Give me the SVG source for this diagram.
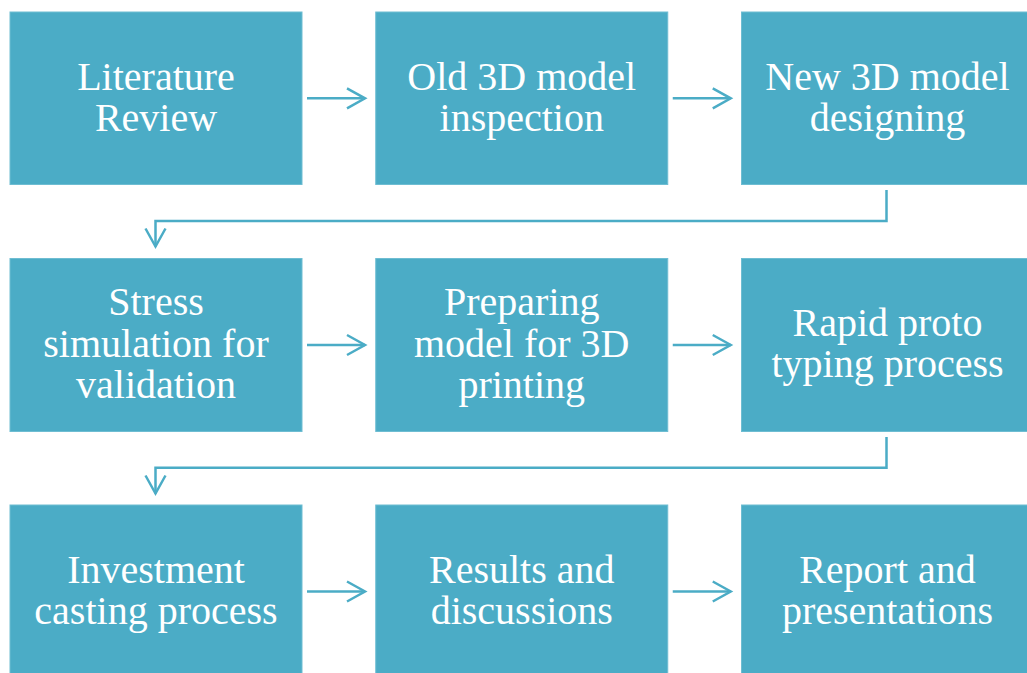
<svg xmlns="http://www.w3.org/2000/svg" width="1027" height="673" viewBox="0 0 1027 673">
  <defs>
    <style>
      .box { fill: #4BACC6; stroke: #6EBDD2; stroke-width: 1; }
      .label { font-family: "Liberation Serif", "Times New Roman", serif; font-size: 40px; fill: #FFFFFF; text-anchor: middle; }
      .conn { fill: none; stroke: #4BACC6; stroke-width: 2.5; stroke-linejoin: miter; }
    </style>
    <marker id="chevron" markerUnits="userSpaceOnUse" markerWidth="24" markerHeight="26" viewBox="-20 -12 24 24" refX="0" refY="0" orient="auto">
      <polyline points="-18,-10 0,0 -18,10" fill="none" stroke="#4BACC6" stroke-width="2.5"/>
    </marker>
  </defs>
  <rect width="1027" height="673" fill="#FFFFFF"/>

  <!-- Row 1 -->
  <g id="literature-review">
    <rect class="box" x="10" y="12" width="292" height="172.5"/>
    <text class="label" x="156" y="90">Literature</text>
    <text class="label" x="156" y="131">Review</text>
  </g>
  <g id="old-model-inspection">
    <rect class="box" x="375.75" y="12" width="292" height="172.5"/>
    <text class="label" x="521.75" y="90">Old 3D model</text>
    <text class="label" x="521.75" y="131">inspection</text>
  </g>
  <g id="new-model-designing">
    <rect class="box" x="741.5" y="12" width="292" height="172.5"/>
    <text class="label" x="887.5" y="90">New 3D model</text>
    <text class="label" x="887.5" y="131">designing</text>
  </g>

  <!-- Row 2 -->
  <g id="stress-simulation">
    <rect class="box" x="10" y="258.5" width="292" height="173"/>
    <text class="label" x="156" y="315">Stress</text>
    <text class="label" x="156" y="356.5">simulation for</text>
    <text class="label" x="156" y="398">validation</text>
  </g>
  <g id="preparing-model">
    <rect class="box" x="375.75" y="258.5" width="292" height="173"/>
    <text class="label" x="521.75" y="315">Preparing</text>
    <text class="label" x="521.75" y="356.5">model for 3D</text>
    <text class="label" x="521.75" y="398">printing</text>
  </g>
  <g id="rapid-prototyping">
    <rect class="box" x="741.5" y="258.5" width="292" height="173"/>
    <text class="label" x="887.5" y="336">Rapid proto</text>
    <text class="label" x="887.5" y="377">typing process</text>
  </g>

  <!-- Row 3 -->
  <g id="investment-casting">
    <rect class="box" x="10" y="505" width="292" height="173"/>
    <text class="label" x="156" y="583">Investment</text>
    <text class="label" x="156" y="624">casting process</text>
  </g>
  <g id="results-discussions">
    <rect class="box" x="375.75" y="505" width="292" height="173"/>
    <text class="label" x="521.75" y="583">Results and</text>
    <text class="label" x="521.75" y="624">discussions</text>
  </g>
  <g id="report-presentations">
    <rect class="box" x="741.5" y="505" width="292" height="173"/>
    <text class="label" x="887.5" y="583">Report and</text>
    <text class="label" x="887.5" y="624">presentations</text>
  </g>

  <!-- Connectors -->
  <g id="connectors">
    <line class="conn" x1="307" y1="98.3" x2="365" y2="98.3" marker-end="url(#chevron)"/>
    <line class="conn" x1="672.75" y1="98.3" x2="730.75" y2="98.3" marker-end="url(#chevron)"/>
    <polyline class="conn" points="886.5,190 886.5,221 155.5,221 155.5,246.5" marker-end="url(#chevron)"/>
    <line class="conn" x1="307" y1="345" x2="365" y2="345" marker-end="url(#chevron)"/>
    <line class="conn" x1="672.75" y1="345" x2="730.75" y2="345" marker-end="url(#chevron)"/>
    <polyline class="conn" points="886.5,437 886.5,467.7 155.5,467.7 155.5,493.5" marker-end="url(#chevron)"/>
    <line class="conn" x1="307" y1="591.5" x2="365" y2="591.5" marker-end="url(#chevron)"/>
    <line class="conn" x1="672.75" y1="591.5" x2="730.75" y2="591.5" marker-end="url(#chevron)"/>
  </g>
</svg>
